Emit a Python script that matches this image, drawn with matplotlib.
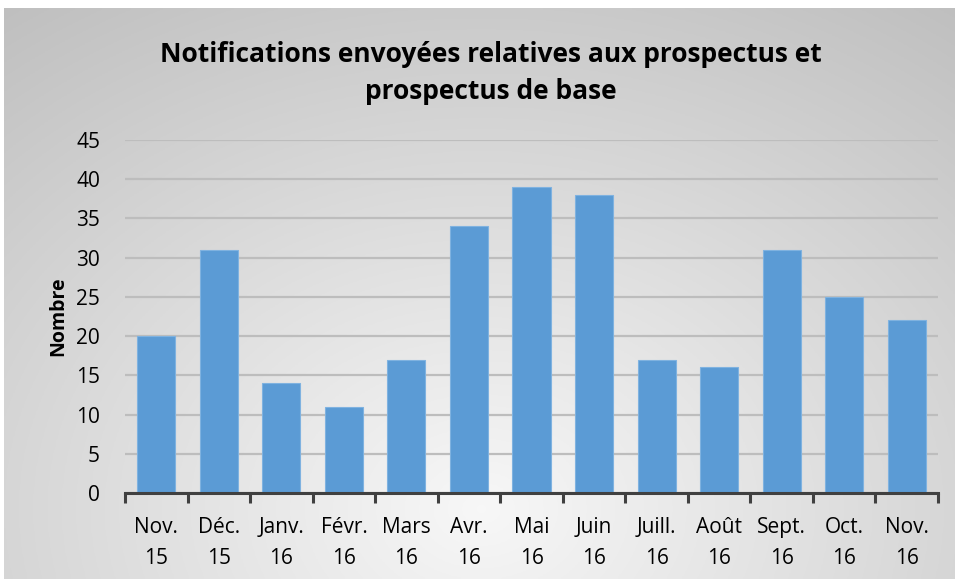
import numpy as np
import matplotlib
matplotlib.use("Agg")
import matplotlib.pyplot as plt

categories = ["Nov.\n15", "Déc.\n15", "Janv.\n16", "Févr.\n16", "Mars\n16", "Avr.\n16",
              "Mai\n16", "Juin\n16", "Juill.\n16", "Août\n16", "Sept.\n16", "Oct.\n16", "Nov.\n16"]
values = [20, 31, 14, 11, 17, 34, 39, 38, 17, 16, 31, 25, 22]
yticks = [0, 5, 10, 15, 20, 25, 30, 35, 40, 45]
title = "Notifications envoyées relatives aux prospectus et\nprospectus de base"
ylabel = "Nombre"

plt.rcParams['font.family'] = ['Open Sans', 'DejaVu Sans']

W, H = 955, 579
fig = plt.figure(figsize=(W/100, H/100), dpi=100)

# background gradient
bg = fig.add_axes([4/W, 0, 1-4/W, 1-8/H], zorder=-10)
yy, xx = np.mgrid[0:200, 0:330]
cx, cy = 165, 175
r = np.sqrt(((xx-cx)/330)**2 + ((yy-cy)/200)**2*0.6)
r = r / r.max()
g = 0.97 - 0.22*r
bg.imshow(np.dstack([g, g, g]), aspect='auto', extent=[0, 1, 0, 1], origin='upper')
bg.set_axis_off()

ax = fig.add_axes([125/W, 1-493/H, (938-125)/W, (493-140)/H])
ax.patch.set_alpha(0)
x = np.arange(len(values))
ax.bar(x, values, width=0.61, color='#5b9bd5', edgecolor='#7fb2e0', linewidth=0.8, zorder=3)
ax.set_xlim(-0.5, len(values)-0.5)
ax.set_ylim(0, 45)
ax.set_yticks(yticks)
ax.yaxis.grid(True, color='#bdbdbd', linewidth=1.6, zorder=0)
ax.tick_params(axis='y', length=0, labelsize=15, pad=18, colors='#000000')
ax.set_xticks(x)
ax.set_xticklabels(categories, fontsize=15, linespacing=1.65)
ax.tick_params(axis='x', length=0, pad=17)
ax.set_xticks(np.arange(len(values)+1)-0.5, minor=True)
ax.tick_params(axis='x', which='minor', length=7, width=2.2, color='#404040', direction='out')
for s in ['top', 'right', 'left']:
    ax.spines[s].set_visible(False)
ax.spines['bottom'].set_color('#404040')
ax.spines['bottom'].set_linewidth(2.2)
ax.spines['bottom'].set_zorder(5)

fig.text(491/W, 1-73/H, title, ha='center', va='center', fontsize=19, fontweight='bold',
         linespacing=1.45)
fig.text(58/W, 1-316/H, ylabel, ha='center', va='center', rotation=90, fontsize=14,
         fontweight='bold')

fig.savefig("out.png", dpi=100)
